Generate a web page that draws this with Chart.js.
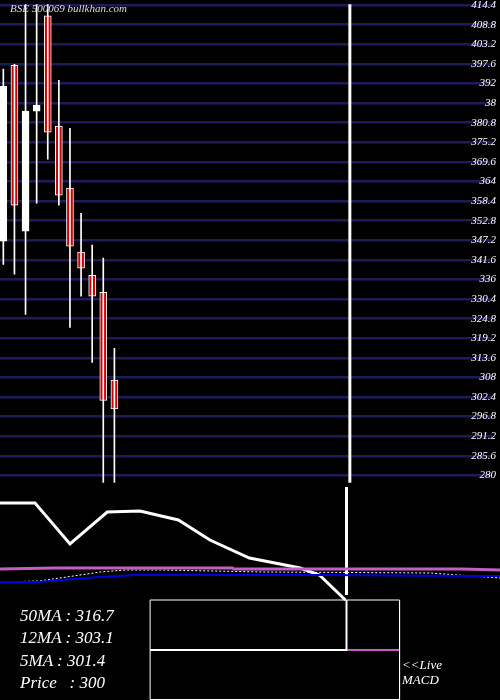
<!DOCTYPE html>
<html><head><meta charset="utf-8">
<script src="https://cdn.jsdelivr.net/npm/chart.js@4/dist/chart.umd.min.js"></script>
<style>
body{margin:0;background:#000;width:500px;height:700px;overflow:hidden;position:relative;font-family:"Liberation Serif",serif;font-style:italic}
canvas{position:absolute;left:0}
#top{top:0}#bot{top:487px}
.t{position:absolute;color:#fff;white-space:pre}
</style></head><body>
<canvas id="top" width="500" height="487"></canvas>
<canvas id="bot" width="500" height="213"></canvas>
<div class="t" style="left:10px;top:2px;font-size:11px;color:#ddd">BSE 500069 bullkhan.com</div>
<div class="t" style="left:20px;top:606px;font-size:17px">50MA : 316.7</div>
<div class="t" style="left:20px;top:628px;font-size:17px">12MA : 303.1</div>
<div class="t" style="left:20px;top:651px;font-size:17px">5MA : 301.4</div>
<div class="t" style="left:20px;top:673px;font-size:17px">Price   : 300</div>
<div class="t" style="left:402px;top:657px;font-size:13px">&lt;&lt;Live</div>
<div class="t" style="left:402px;top:672px;font-size:13px">MACD</div>
<script>
// candles
const opens  = [346.9, 397.2, 349.8, 384.1, 411.3, 379.8, 362.1, 343.8, 337.2, 332.3, 307.2];
const closes = [391.2, 357.2, 384.1, 385.8, 378.1, 360.1, 345.5, 339.2, 331.2, 301.4, 299.0];
const highs  = [396.1, 397.5, 416.0, 416.0, 416.0, 392.9, 379.2, 354.9, 345.8, 342.1, 316.3];
const lows   = [340.3, 337.5, 326.0, 357.8, 370.4, 357.2, 322.3, 331.2, 312.3, 277.4, 277.1];
const tickValues = [414.4,408.8,403.2,397.6,392,386.4,380.8,375.2,369.6,364,358.4,352.8,347.2,341.6,336,330.4,324.8,319.2,313.6,308,302.4,296.8,291.2,285.6,280];
const tickLabels = ['414.4','408.8','403.2','397.6','392','38','380.8','375.2','369.6','364','358.4','352.8','347.2','341.6','336','330.4','324.8','319.2','313.6','308','302.4','296.8','291.2','285.6','280'];
const markerX = 31.2;
// MACD panel [x index, value]
const macdLine   = [[-0.3,8.7],[2.8,8.7],[5.9,4.6],[9.2,7.8],[12.1,7.9],[15.5,7.0],[18.3,5.0],[21.8,3.2],[26.3,2.2],[28.0,1.5],[30.3,-1.0]];
const signalLine = [[-0.3,2.1],[4.6,2.2],[20.3,2.2],[20.4,2.1],[40.6,2.1],[44,2.0]];
const blueLine   = [[-0.3,0.8],[3.2,0.8],[5.0,1.0],[8.6,1.3],[11.7,1.5],[28.0,1.5],[42.2,1.4],[44,1.4]];
const dotLine    = [[-0.3,0.8],[3.2,0.9],[8.6,1.8],[10.8,2.0],[13.9,2.0],[23.2,1.8],[37.8,1.7],[44,1.2]];
const boxLeft = 13.0, boxRight = 35.1, boxTop = -1.0, boxMid = -6.0, boxBottom = -10.95, liveX = 30.4;

const idx = opens.map((_, i) => i);
const xs = {type:'linear', min:-0.3, max:44, display:false, offset:false};
const pts = a => a.map(p => ({x:p[0], y:p[1]}));

new Chart(document.getElementById('top'), {
  data: {datasets: [
    {type:'bar', data: idx.map(i => ({x:i, y:[lows[i], highs[i]]})), backgroundColor:'#fff', barThickness:1, grouped:false},
    {type:'bar', data: idx.map(i => ({x:i, y:[opens[i], closes[i]]})), grouped:false, barThickness:7,
      backgroundColor: idx.map(i => closes[i] >= opens[i] ? '#fff' : '#cc0000'), borderColor:'#fff', borderWidth:1, borderSkipped:false},
    {type:'line', data:[{x:markerX,y:416},{x:markerX,y:276}], borderColor:'#fff', borderWidth:3, pointRadius:0}
  ]},
  options: {
    responsive:false, animation:false, layout:{padding:0},
    plugins:{legend:{display:false}, tooltip:{enabled:false}},
    scales: {
      x: xs,
      y: {position:'right', min:277.9, max:414.63,
        afterBuildTicks: s => { s.ticks = tickValues.map(v => ({value:v})); },
        grid:{color:'#1c1c5a', lineWidth:2.5, drawTicks:false},
        border:{display:false},
        ticks:{mirror:true, padding:4, color:'#fff', font:{family:'Liberation Serif', style:'italic', size:11, lineHeight:0.05},
          callback: (v, i) => tickLabels[i]}
      }
    }
  }
});

new Chart(document.getElementById('bot'), {
  type:'line',
  data: {datasets: [
    {data: pts(signalLine), borderColor:'#c060c0', borderWidth:3, pointRadius:0},
    {data: pts(blueLine), borderColor:'#0000dd', borderWidth:2, pointRadius:0},
    {data: pts(dotLine), borderColor:'#fff', borderWidth:1, borderDash:[2,2], pointRadius:0},
    {data: pts(macdLine), borderColor:'#fff', borderWidth:3, pointRadius:0},
    {data:[{x:liveX,y:10.5},{x:liveX,y:-0.5}], borderColor:'#fff', borderWidth:3, pointRadius:0},
    {data:[{x:boxLeft,y:boxTop},{x:boxRight,y:boxTop},{x:boxRight,y:boxBottom},{x:boxLeft,y:boxBottom},{x:boxLeft,y:boxTop}], borderColor:'#fff', borderWidth:1, pointRadius:0},
    {data:[{x:boxLeft,y:boxMid},{x:liveX,y:boxMid},{x:liveX,y:boxTop}], borderColor:'#fff', borderWidth:2, pointRadius:0},
    {data:[{x:liveX,y:boxMid},{x:boxRight,y:boxMid}], borderColor:'#c060c0', borderWidth:2, pointRadius:0}
  ]},
  options: {
    responsive:false, animation:false, layout:{padding:0},
    plugins:{legend:{display:false}, tooltip:{enabled:false}},
    scales: {x: xs, y:{type:'linear', min:-11, max:10.3, display:false}}
  }
});
</script>
</body></html>
